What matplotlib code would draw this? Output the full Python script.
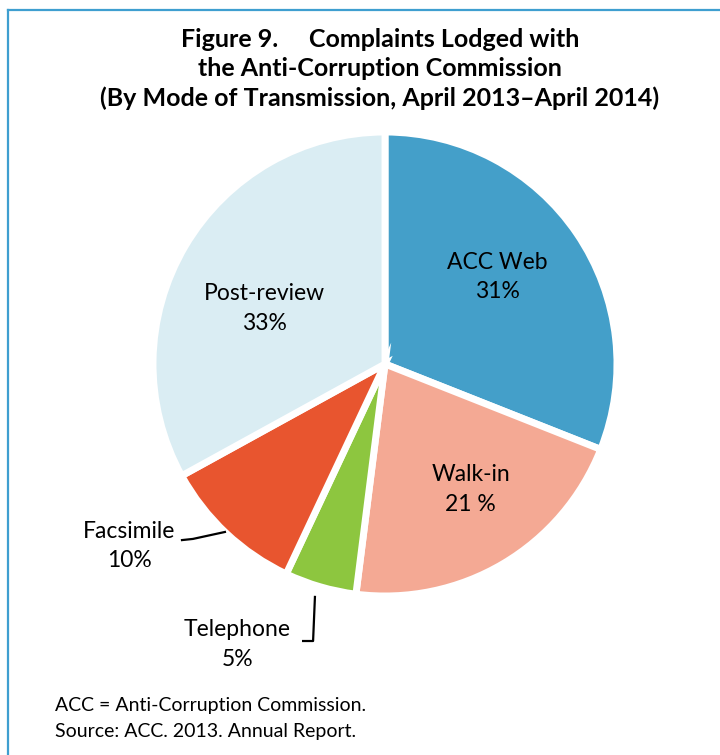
import matplotlib.pyplot as plt

# data
modes = ["ACC Web", "Walk-in", "Telephone", "Facsimile", "Post-review"]
shares = [31, 21, 5, 10, 33]
pct_labels = ["31%", "21 %", "5%", "10%", "33%"]
colors = ["#449fc9", "#f4a994", "#8dc63f", "#e8552f", "#daedf3"]

plt.rcParams['font.family'] = ['Lato', 'DejaVu Sans']

fig = plt.figure(figsize=(7.2, 7.55), dpi=100)

# frame lines (top and left)
fig.add_artist(plt.Line2D([8/720, 1], [1 - 10/755, 1 - 10/755], color="#3f9fd0", lw=1.6))
fig.add_artist(plt.Line2D([8/720, 8/720], [0, 1 - 10/755], color="#3f9fd0", lw=1.6))

fig.text(380/720, 1 - 28/755, "Figure 9.     Complaints Lodged with\nthe Anti-Corruption Commission\n(By Mode of Transmission, April 2013\u2013April 2014)",
         ha="center", va="top", fontsize=18, fontweight="bold", linespacing=1.32)

ax = fig.add_axes([153/720, 159/755, 464/720, 464/755])
wedges, _ = ax.pie(shares, colors=colors, startangle=90, counterclock=False,
                   radius=1, wedgeprops=dict(edgecolor="white", linewidth=5))
ax.set_xlim(-1, 1)
ax.set_ylim(-1, 1)
ax.set_aspect("equal")
ax.axis("off")

# label positions (data coords)
label_pos = [(0.483, 0.375), (0.37, -0.54), (-0.636, -1.21), (-1.103, -0.785), (-0.52, 0.24)]
for name, pct, (x, y) in zip(modes, pct_labels, label_pos):
    ax.text(x, y, name + "\n" + pct, ha="center", va="center", fontsize=16.5,
            linespacing=1.5, clip_on=False)

# leader lines
ax.plot([-0.875, -0.828, -0.690], [-0.759, -0.754, -0.724], color="black", lw=1.6, clip_on=False)
ax.plot([-0.302, -0.310, -0.353], [-1.004, -1.194, -1.194], color="black", lw=1.6, clip_on=False)

fig.text(55/720, 1 - 706/755, "ACC = Anti-Corruption Commission.", ha="left", va="center", fontsize=14)
fig.text(55/720, 1 - 731/755, "Source: ACC. 2013. Annual Report.", ha="left", va="center", fontsize=14)

fig.savefig("out.png", dpi=100, facecolor="white")
